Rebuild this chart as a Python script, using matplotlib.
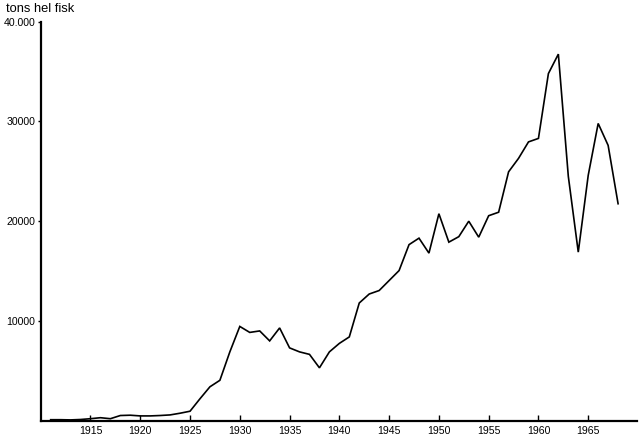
import matplotlib
matplotlib.use("Agg")
import matplotlib.pyplot as plt

years = list(range(1911, 1969))
tons = [100, 100, 80, 120, 200, 300, 200, 520, 550, 480,
        480, 520, 580, 750, 950, 2200, 3400, 4050, 6900, 9450,
        8850, 9000, 8000, 9300, 7300, 6900, 6650, 5300, 6900, 7750,
        8400, 11800, 12700, 13050, 14050, 15050, 17650, 18300, 16800, 20750,
        17900, 18450, 20000, 18400, 20550, 20900, 24950, 26300, 27950, 28300,
        34800, 36750, 24500, 16900, 24600, 29800, 27600, 21750]

xticks = [1915, 1920, 1925, 1930, 1935, 1940, 1945, 1950, 1955, 1960, 1965]
yticks = [10000, 20000, 30000, 40000]
ytick_labels = ["10000", "20000", "30000", "40.000"]
ylabel = "tons hel fisk"

plt.rcParams['font.family'] = ['Liberation Sans', 'DejaVu Sans']

fig = plt.figure(figsize=(6.4, 4.43), dpi=100)
W, H = 640, 443
left, right = 40.7 / W, 637 / W
bottom, top = (H - 420.7) / H, (H - 21.7) / H
ax = fig.add_axes([left, bottom, right - left, top - bottom])

ax.plot(years, tons, color='black', lw=1.2, solid_joinstyle='miter')

ax.set_xlim(1910, 1969.9)
ax.set_ylim(0, 40000)

for s in ['top', 'right']:
    ax.spines[s].set_visible(False)
for s in ['left', 'bottom']:
    ax.spines[s].set_linewidth(1.6)
    ax.spines[s].set_color('black')

ax.set_xticks(xticks)
ax.set_xticklabels([str(x) for x in xticks])
ax.set_yticks(yticks)
ax.set_yticklabels(ytick_labels)

ax.tick_params(axis='x', direction='in', length=4, width=1.0, pad=4, labelsize=7.6)
ax.tick_params(axis='y', direction='out', length=2.5, width=1.0, pad=1.5, labelsize=7.6)

fig.text(6 / W, 1 - 3.5 / H, ylabel, ha='left', va='top', fontsize=9.3)

fig.savefig("out.png", dpi=100)
